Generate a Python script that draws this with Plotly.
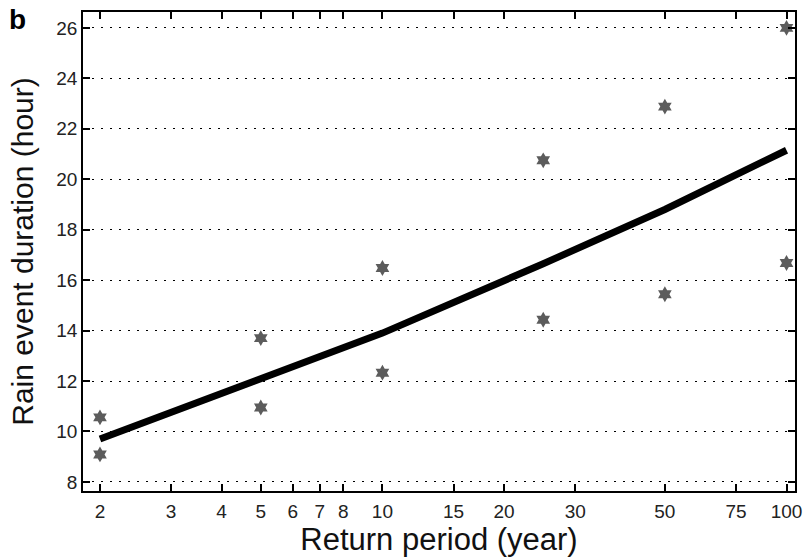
import plotly.graph_objects as go

# Return periods (years) and observed rain event durations (hours)
obs_period = [2, 2, 5, 5, 10, 10, 25, 25, 50, 50, 100, 100]
obs_duration = [10.56, 9.09, 13.7, 10.95, 16.48, 12.33, 20.75, 14.43, 22.88, 15.44, 26.0, 16.68]

# Fitted curve
fit_period = [2, 5, 10, 25, 50, 100]
fit_duration = [9.7, 12.1, 13.9, 16.65, 18.8, 21.15]

x_ticks = [2, 3, 4, 5, 6, 7, 8, 10, 15, 20, 30, 50, 75, 100]
y_ticks = [8, 10, 12, 14, 16, 18, 20, 22, 24, 26]

FONT = "Liberation Sans, Arial, sans-serif"

fig = go.Figure()

fig.add_trace(go.Scatter(
    x=obs_period, y=obs_duration, mode="markers",
    marker=dict(symbol="hexagram", size=12, color="#5c5c5c",
                line=dict(width=0)),
    showlegend=False,
))

fig.add_trace(go.Scatter(
    x=fit_period, y=fit_duration, mode="lines",
    line=dict(color="black", width=7),
    showlegend=False,
))

axis_common = dict(
    showline=True, linecolor="black", linewidth=1.5, mirror="ticks",
    ticks="inside", ticklen=7, tickcolor="black", tickwidth=1.5,
    tickfont=dict(family=FONT, size=19, color="#222"),
    zeroline=False, automargin=False,
)

fig.update_xaxes(
    type="log", range=[0.259, 2.021],
    tickvals=x_ticks, ticktext=[str(v) for v in x_ticks],
    showgrid=False, ticklabelstandoff=2,
    title=dict(text="Return period (year)", standoff=0,
               font=dict(family=FONT, size=31, color="#111")),
    **axis_common,
)

fig.update_yaxes(
    range=[7.64, 26.63],
    tickvals=y_ticks,
    showgrid=True, gridcolor="black", gridwidth=1, griddash="1.5px,7.5px",
    title=dict(text="Rain event duration (hour)", standoff=14,
               font=dict(family=FONT, size=30, color="#111")),
    **axis_common,
)

fig.add_annotation(
    text="<b>b</b>", xref="paper", yref="paper", x=-0.107, y=1.02,
    xanchor="left", yanchor="top", showarrow=False,
    font=dict(family=FONT, size=28, color="black"),
)

fig.update_layout(
    width=809, height=557,
    margin=dict(l=83, r=14, t=12, b=66),
    plot_bgcolor="white", paper_bgcolor="white",
)

fig.write_html("out.html")
